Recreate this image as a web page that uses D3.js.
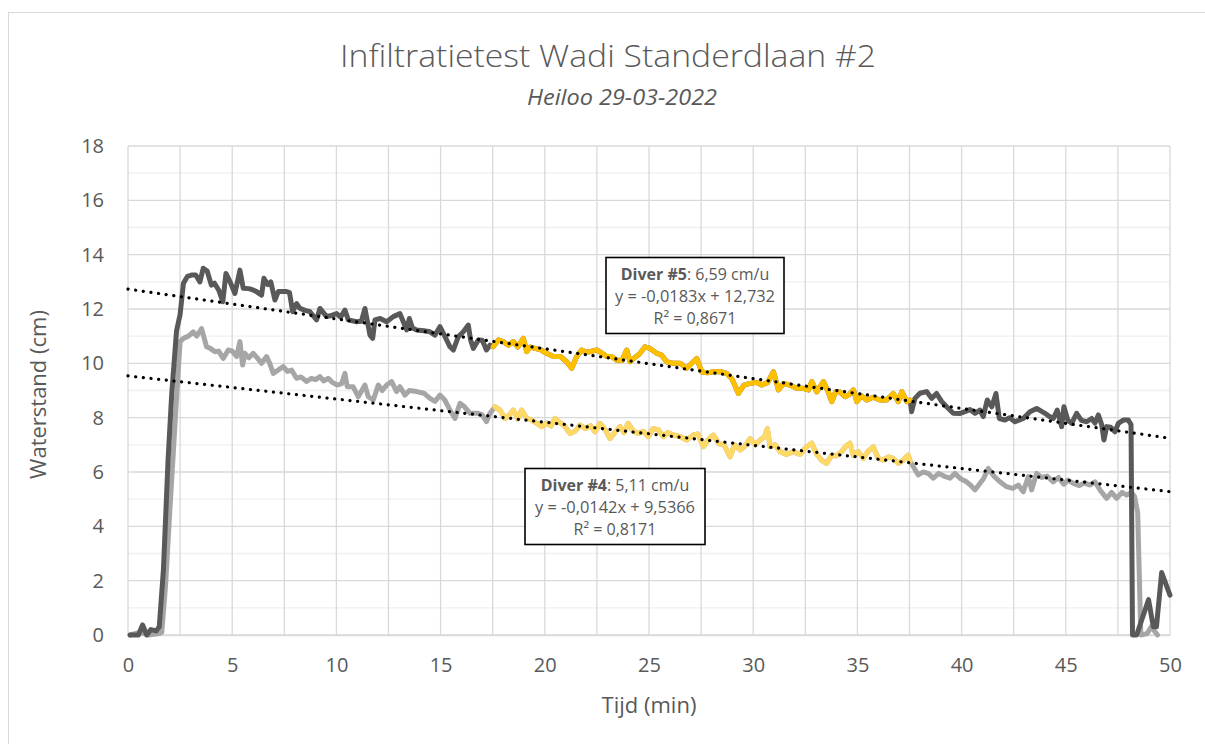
<!DOCTYPE html>
<html>
<head>
<meta charset="utf-8">
<script src="https://cdn.jsdelivr.net/npm/d3@7"></script>
<style>
  html, body { margin: 0; padding: 0; background: #fff; }
  svg { display: block; font-family: "Open Sans", "Liberation Sans", sans-serif; }
</style>
</head>
<body>
<svg id="chart" width="1205" height="744"></svg>
<script>
// ---------------- DATA ----------------
const chartTitle = "Infiltratietest Wadi Standerdlaan #2";
const chartSubtitle = "Heiloo 29-03-2022";
const xAxisTitle = "Tijd (min)";
const yAxisTitle = "Waterstand (cm)";
const xTicks = [0, 5, 10, 15, 20, 25, 30, 35, 40, 45, 50];
const yTicks = [0, 2, 4, 6, 8, 10, 12, 14, 16, 18];

// Diver #5 (dark series): time (min) and water level (cm)
const diver5T = [0.1,0.5,0.7,0.9,1.1,1.35,1.5,1.7,1.92,2.1,2.33,2.5,2.66,2.85,3.05,3.25,3.45,3.61,3.8,4.0,4.15,4.35,4.55,4.7,4.9,5.13,5.37,5.53,5.8,6.0,6.17,6.41,6.52,6.7,6.85,7.05,7.21,7.45,7.61,7.75,7.9,8.09,8.25,8.5,8.73,9.05,9.21,9.53,9.7,10.01,10.2,10.41,10.57,10.97,11.2,11.37,11.61,11.74,11.85,12.1,12.41,12.73,13.05,13.21,13.37,13.5,13.65,13.85,14.2,14.49,14.73,14.97,15.21,15.45,15.61,15.85,16.09,16.33,16.44,16.57,16.81,17.0,17.2,17.37,17.52,17.77,18.0,18.25,18.49,18.7,18.97,19.13,19.3,19.53,19.8,20.09,20.41,20.75,21.05,21.29,21.53,21.77,22.0,22.25,22.49,22.7,22.97,23.2,23.45,23.7,23.93,24.09,24.3,24.55,24.81,25.05,25.37,25.6,25.85,26.17,26.49,26.81,27.05,27.29,27.53,27.8,28.09,28.4,28.73,29.0,29.29,29.55,29.85,30.15,30.41,30.7,30.97,31.21,31.45,31.75,32.09,32.4,32.65,32.81,33.05,33.37,33.6,33.77,33.95,34.15,34.41,34.6,34.81,34.97,35.2,35.45,35.75,36.08,36.4,36.72,36.96,37.13,37.37,37.53,37.6,37.76,38.0,38.32,38.56,38.8,39.04,39.28,39.6,39.9,40.16,40.4,40.64,40.88,41.04,41.23,41.45,41.65,41.81,42.08,42.3,42.56,42.96,43.28,43.6,44.0,44.2,44.4,44.59,44.8,44.91,45.1,45.28,45.52,45.75,46.0,46.24,46.4,46.56,46.72,46.83,46.96,47.15,47.36,47.52,47.76,48.0,48.13,48.2,48.4,48.97,49.2,49.35,49.6,50.0];
const diver5V = [0,0,0.37,0,0.2,0.15,0.3,2.4,6.4,8.9,11.2,11.8,12.95,13.2,13.25,13.25,13.0,13.5,13.4,12.88,12.95,12.7,12.27,13.31,13.0,12.57,13.43,12.76,12.75,12.7,12.64,12.51,13.13,12.9,13.0,12.33,12.64,12.64,12.64,12.6,11.9,12.2,12.02,11.95,11.9,11.6,12.02,11.72,11.75,11.83,11.7,11.96,11.6,11.53,11.55,12.02,11.04,10.92,11.6,11.65,11.53,11.72,11.83,11.53,11.23,11.65,11.3,11.23,11.2,11.16,11.04,11.35,10.98,10.61,10.49,10.98,11.16,11.41,10.86,10.55,10.86,10.85,10.49,10.67,10.61,10.86,10.8,10.67,10.8,10.6,10.92,10.43,10.6,10.55,10.5,10.37,10.25,10.25,10.06,9.82,10.25,10.49,10.4,10.45,10.49,10.4,10.25,10.25,10.12,10.1,10.49,10.06,10.2,10.35,10.61,10.55,10.37,10.3,10.06,10.0,10.0,9.82,10.0,10.18,9.69,9.65,9.69,9.7,9.63,9.4,8.89,9.2,9.26,9.3,9.2,9.3,9.69,9.02,9.26,9.2,9.08,9.08,9.02,9.33,8.95,9.33,8.95,8.59,8.95,8.95,8.77,8.85,9.02,8.59,8.8,8.65,8.75,8.65,8.65,8.89,8.59,8.96,8.59,8.65,8.22,8.71,8.9,8.96,8.71,8.89,8.6,8.4,8.16,8.15,8.22,8.3,8.16,8.28,8.04,8.65,8.4,8.89,7.97,7.91,8.0,7.85,7.97,8.22,8.34,8.16,8.05,7.97,8.28,7.67,8.4,7.9,7.79,8.16,7.9,7.85,7.97,7.8,8.1,7.75,7.18,7.67,7.65,7.48,7.79,7.91,7.91,7.75,0,0,1.3,0.3,0.3,2.3,1.47];

// Diver #4 (light series)
const diver4T = [0.1,0.6,1.0,1.5,1.62,1.8,2.0,2.18,2.35,2.5,2.66,2.9,3.13,3.3,3.53,3.77,3.95,4.17,4.35,4.57,4.81,5.0,5.21,5.37,5.5,5.61,5.8,6.01,6.2,6.41,6.65,6.8,6.97,7.2,7.45,7.65,7.85,8.09,8.3,8.57,8.8,9.0,9.21,9.4,9.61,9.8,10.04,10.25,10.41,10.52,10.8,11.05,11.37,11.53,11.77,12.01,12.2,12.41,12.65,12.89,13.05,13.29,13.5,13.85,14.2,14.49,14.73,14.97,15.2,15.45,15.69,15.93,16.15,16.41,16.8,17.0,17.2,17.37,17.61,17.85,18.09,18.3,18.49,18.7,18.89,19.13,19.37,19.6,19.85,20.1,20.3,20.49,20.75,20.97,21.21,21.45,21.69,21.95,22.2,22.41,22.65,22.9,23.13,23.35,23.61,23.8,24.0,24.25,24.49,24.73,24.97,25.2,25.45,25.69,25.9,26.17,26.5,26.81,27.13,27.35,27.61,27.85,28.09,28.35,28.6,28.89,29.1,29.37,29.6,29.85,30.1,30.33,30.55,30.68,30.81,31.05,31.29,31.6,31.92,32.25,32.56,32.81,33.05,33.28,33.52,33.75,34.0,34.24,34.45,34.64,34.8,35.05,35.28,35.5,35.76,36.0,36.24,36.5,36.72,36.96,37.2,37.44,37.53,37.68,37.92,38.15,38.4,38.64,38.9,39.15,39.44,39.68,39.95,40.24,40.45,40.64,40.85,41.05,41.28,41.55,41.84,42.16,42.45,42.72,42.96,43.2,43.36,43.6,43.85,44.1,44.4,44.65,44.9,45.1,45.36,45.65,45.9,46.15,46.4,46.64,46.96,47.2,47.44,47.7,47.92,48.15,48.3,48.45,48.6,48.9,49.1,49.4];
const diver4V = [0,0.1,0,0.05,0.1,1.8,4.5,6.8,9.0,10.8,10.92,11.0,11.16,11.0,11.28,10.61,10.55,10.43,10.45,10.18,10.49,10.45,10.25,10.8,9.94,10.37,10.2,10.37,10.2,10.0,10.25,10.0,9.63,9.75,9.88,9.7,9.75,9.45,9.5,9.33,9.45,9.4,9.51,9.35,9.45,9.3,9.2,9.25,9.63,9.14,9.14,8.77,9.2,8.77,8.65,9.2,9.0,9.2,9.33,8.96,9.14,8.83,9.0,8.96,8.9,8.71,8.6,8.83,8.65,8.28,7.97,8.53,8.4,8.16,8.16,8.1,7.85,8.16,8.4,8.28,7.97,8.1,8.28,7.95,8.28,7.97,7.91,7.8,7.67,7.8,7.7,7.97,7.8,7.67,7.42,7.5,7.73,7.6,7.7,7.48,7.79,7.55,7.23,7.45,7.67,7.45,7.79,7.5,7.42,7.5,7.3,7.6,7.55,7.3,7.45,7.36,7.3,7.18,7.36,7.4,6.93,7.2,7.36,7.05,7.0,6.56,7.0,6.81,6.95,7.23,7.0,7.18,7.3,7.6,6.93,7.0,6.75,6.65,6.75,6.65,6.93,7.06,6.65,6.44,6.32,6.6,6.6,6.75,6.95,7.06,6.62,6.75,6.5,6.75,6.93,6.5,6.44,6.55,6.5,6.32,6.44,6.62,6.4,6.2,5.89,6.0,5.95,5.77,5.95,5.85,5.77,5.95,5.75,5.64,5.5,5.34,5.55,5.75,6.13,5.85,5.64,5.46,5.4,5.52,5.27,5.83,5.34,5.95,5.8,5.85,5.64,5.8,5.55,5.7,5.58,5.5,5.6,5.52,5.64,5.34,5.03,5.25,5.03,5.25,5.15,5.25,5.1,4.5,0,0.05,0.3,0];

// Period used for the trend fit (highlighted)
const fitRange = [17.45, 37.53];

// Trend lines (x in the equations is in 10-second steps)
const trendNames = ["Diver #5", "Diver #4"];
const trendRates = ["6,59 cm/u", "5,11 cm/u"];
const trendSlopes = [-0.0183, -0.0142];
const trendIntercepts = [12.732, 9.5366];
const trendEquations = ["y = -0,0183x + 12,732", "y = -0,0142x + 9,5366"];
const trendR2 = ["R² = 0,8671", "R² = 0,8171"];
const stepsPerMinute = 6;

// ---------------- CHART ----------------
const W = 1205, H = 744;
const margin = { left: 128, right: 35, top: 146, bottom: 109 };
const svg = d3.select("#chart");
const textColor = "#595959";

// outer chart border
svg.append("rect")
  .attr("x", 8.5).attr("y", 12.5)
  .attr("width", 1205).attr("height", 740)
  .attr("fill", "#fff").attr("stroke", "#d9d9d9").attr("stroke-width", 1);

const x = d3.scaleLinear().domain([0, 50]).range([margin.left, W - margin.right]);
const y = d3.scaleLinear().domain([0, 18]).range([H - margin.bottom, margin.top]);

// gridlines
const g = svg.append("g");
g.selectAll("line.hminor")
  .data(d3.range(1, 18, 2))
  .join("line")
  .attr("x1", x(0)).attr("x2", x(50))
  .attr("y1", d => y(d)).attr("y2", d => y(d))
  .attr("stroke", "#efefef").attr("stroke-width", 1.3);
g.selectAll("line.hmajor")
  .data(yTicks)
  .join("line")
  .attr("x1", x(0)).attr("x2", x(50))
  .attr("y1", d => y(d)).attr("y2", d => y(d))
  .attr("stroke", "#d9d9d9").attr("stroke-width", 1.3);
g.selectAll("line.v")
  .data(d3.range(0, 50.01, 2.5))
  .join("line")
  .attr("y1", y(0)).attr("y2", y(18))
  .attr("x1", d => x(d)).attr("x2", d => x(d))
  .attr("stroke", "#d9d9d9").attr("stroke-width", 1.3);

// axes (labels only)
const xAxis = svg.append("g")
  .attr("transform", `translate(0,${y(0)})`)
  .call(d3.axisBottom(x).tickValues(xTicks).tickSize(0).tickPadding(23).tickFormat(d3.format("d")));
xAxis.select(".domain").attr("stroke", "#d9d9d9").attr("stroke-width", 1.3);
xAxis.selectAll("text").attr("font-size", 20).attr("fill", textColor)
  .attr("font-family", "'Open Sans', sans-serif");

const yAxis = svg.append("g")
  .attr("transform", `translate(${x(0)},0)`)
  .call(d3.axisLeft(y).tickValues(yTicks).tickSize(0).tickPadding(24).tickFormat(d3.format("d")));
yAxis.select(".domain").remove();
yAxis.selectAll("text").attr("font-size", 20).attr("fill", textColor)
  .attr("font-family", "'Open Sans', sans-serif");

// series
const line = d3.line().x(d => x(d[0])).y(d => y(Math.max(0, d[1])));
const d5 = diver5T.map((t, i) => [t, diver5V[i]]);
const d4 = diver4T.map((t, i) => [t, diver4V[i]]);
const inFit = d => d[0] >= fitRange[0] && d[0] <= fitRange[1];
const sw = 5;

const plot = svg.append("g");
plot.append("path").datum(d4).attr("d", line)
  .attr("fill", "none").attr("stroke", "#a6a6a6").attr("stroke-width", sw)
  .attr("stroke-linejoin", "round").attr("stroke-linecap", "round");
plot.append("path").datum(d5).attr("d", line)
  .attr("fill", "none").attr("stroke", "#595959").attr("stroke-width", sw)
  .attr("stroke-linejoin", "round").attr("stroke-linecap", "round");
plot.append("path").datum(d4.filter(inFit)).attr("d", line)
  .attr("fill", "none").attr("stroke", "#ffd966").attr("stroke-width", sw)
  .attr("stroke-linejoin", "round").attr("stroke-linecap", "round");
plot.append("path").datum(d5.filter(inFit)).attr("d", line)
  .attr("fill", "none").attr("stroke", "#ffc000").attr("stroke-width", sw)
  .attr("stroke-linejoin", "round").attr("stroke-linecap", "round");

// trend lines
trendSlopes.forEach((s, i) => {
  const pts = [0, 50].map(t => [t, trendIntercepts[i] + s * t * stepsPerMinute]);
  plot.append("path").datum(pts).attr("d", line)
    .attr("fill", "none").attr("stroke", "#000").attr("stroke-width", 3.2)
    .attr("stroke-dasharray", "0.1 7.6").attr("stroke-linecap", "round");
});

// trend label boxes
const boxes = [
  { cx: 695, top: 257.5, w: 178, h: 76 },
  { cx: 615, top: 468.5, w: 180, h: 76 }
];
const boxFont = 16;
boxes.forEach((b, i) => {
  const bg = svg.append("g");
  bg.append("rect")
    .attr("x", b.cx - b.w / 2).attr("y", b.top)
    .attr("width", b.w).attr("height", b.h)
    .attr("fill", "#fff").attr("stroke", "#000").attr("stroke-width", 1.6);
  const t1 = bg.append("text").attr("x", b.cx).attr("y", b.top + 22)
    .attr("text-anchor", "middle").attr("font-size", boxFont).attr("fill", textColor);
  t1.append("tspan").attr("font-weight", "bold").text(trendNames[i]);
  t1.append("tspan").text(": " + trendRates[i]);
  bg.append("text").attr("x", b.cx).attr("y", b.top + 44)
    .attr("text-anchor", "middle").attr("font-size", boxFont).attr("fill", textColor)
    .attr("textLength", 160).attr("lengthAdjust", "spacingAndGlyphs")
    .text(trendEquations[i]);
  bg.append("text").attr("x", b.cx).attr("y", b.top + 66)
    .attr("text-anchor", "middle").attr("font-size", boxFont).attr("fill", textColor)
    .text(trendR2[i]);
});

// titles
svg.append("text").attr("x", 608).attr("y", 67)
  .attr("text-anchor", "middle").attr("font-size", 31).attr("font-weight", 300)
  .attr("fill", textColor).attr("textLength", 536).attr("lengthAdjust", "spacingAndGlyphs")
  .text(chartTitle);
svg.append("text").attr("x", 622).attr("y", 105)
  .attr("text-anchor", "middle").attr("font-size", 22).attr("font-style", "italic")
  .attr("fill", textColor).attr("textLength", 190).attr("lengthAdjust", "spacingAndGlyphs")
  .text(chartSubtitle);

svg.append("text")
  .attr("x", (x(0) + x(50)) / 2).attr("y", 713)
  .attr("text-anchor", "middle").attr("font-size", 22).attr("fill", textColor)
  .text(xAxisTitle);
svg.append("text")
  .attr("transform", `translate(46,${(y(0) + y(18)) / 2 + 4}) rotate(-90)`)
  .attr("text-anchor", "middle").attr("font-size", 22).attr("fill", textColor)
  .text(yAxisTitle);
</script>
</body>
</html>
